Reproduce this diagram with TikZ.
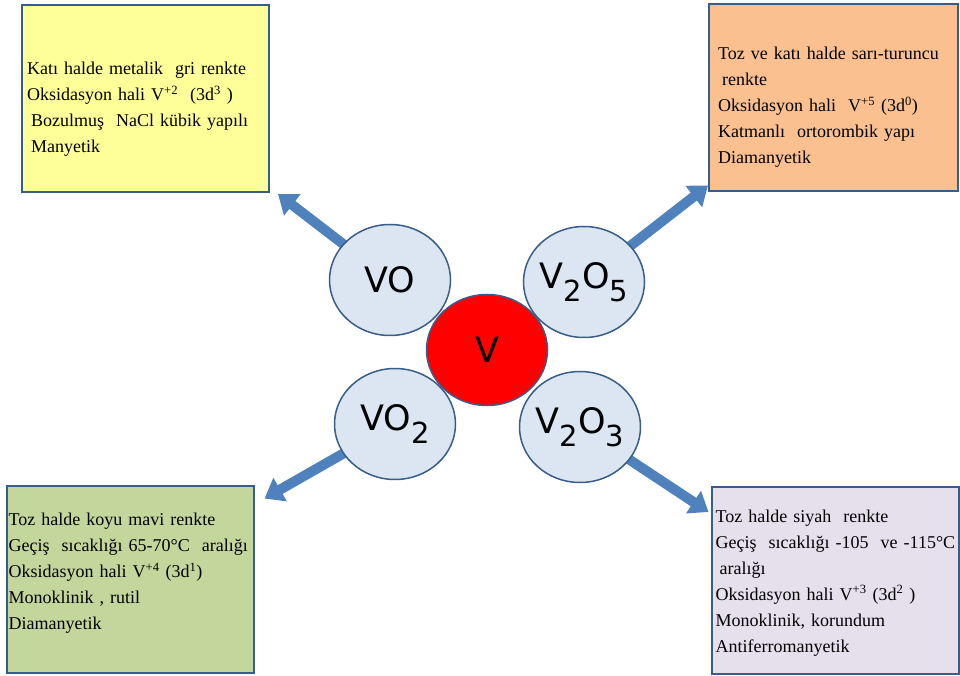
\documentclass[tikz,border=0pt]{standalone}
\usepackage{fontspec}
\usepackage{tikz}
\usetikzlibrary{arrows.meta}
\usetikzlibrary{positioning}
\usetikzlibrary{shapes.geometric}
\usetikzlibrary{backgrounds}
\newfontfamily\boxfont{Liberation Serif}[WordSpace=0.85]
\newfontfamily\oxfont{DejaVu Sans}
\definecolor{edgeblue}{RGB}{56,93,138}
\definecolor{arrowblue}{RGB}{79,129,189}
\definecolor{oxidefill}{RGB}{220,230,242}
\definecolor{yellowfill}{RGB}{255,255,153}
\definecolor{orangefill}{RGB}{250,192,144}
\definecolor{greenfill}{RGB}{195,214,155}
\definecolor{purplefill}{RGB}{230,224,236}
\newcommand{\oxsub}[1]{\raisebox{-13pt}{\fontsize{29}{29}\selectfont #1}}
\newcommand{\oxname}[1]{\makebox[0pt]{#1}}
\tikzstyle{every node}+=[inner sep=0pt]
\tikzstyle{infobox} = [rectangle, draw=edgeblue, line width=2pt, minimum width=247pt, minimum height=187pt]
\tikzstyle{boxtext} = [anchor=base west, text width=262pt, align=left, font=\boxfont\fontsize{18}{26}\selectfont]
\tikzstyle{oxide} = [ellipse, draw=edgeblue, line width=1.5pt, fill=oxidefill, minimum width=121pt, minimum height=111pt, font=\oxfont\fontsize{35}{35}\selectfont]
\tikzstyle{metal} = [oxide, fill=red]
\tikzstyle{line} = [draw=arrowblue, line width=10pt, shorten <=-6pt, -{Triangle[length=18pt,width=26pt]}]

\begin{document}
\begin{tikzpicture}[x=1pt, y=1pt]
  \useasboundingbox (0,0) rectangle (960,675);
  % Place nodes
  \coordinate (c) at (487,325);
  \node [oxide] (vo) at ([shift={(-97pt,70pt)}]c) {\oxname{VO}};
  \node [oxide] (v2o5) at ([shift={(97pt,68pt)}]c) {\oxname{V\oxsub{2}O\oxsub{5}}};
  \node [oxide] (vo2) at ([shift={(-92pt,-74pt)}]c) {\oxname{VO\oxsub{2}}};
  \node [oxide] (v2o3) at ([shift={(93pt,-77pt)}]c) {\oxname{V\oxsub{2}O\oxsub{3}}};
  \node [metal] (v) at (c) {\oxname{V}};
  \node [infobox, fill=yellowfill] (yellow) at ([shift={(-244.5pt,181.5pt)}]vo) {};
  \node [infobox, fill=orangefill, minimum width=249pt] (orange) at ([shift={(249.5pt,184pt)}]v2o5) {};
  \node [infobox, fill=greenfill] (green) at ([shift={(-265pt,-155pt)}]vo2) {};
  \node [infobox, fill=purplefill] (purple) at ([shift={(255pt,-153.5pt)}]v2o3) {};
  % Box texts
  \node [boxtext] (yellowtext) at ([shift={(6pt,-71pt)}]yellow.north west)
    {Katı halde metalik~ gri renkte\\
     Oksidasyon hali V\textsuperscript{+2}~ (3d\textsuperscript{3} )\\
     \hspace*{4pt}Bozulmuş~ NaCl kübik yapılı\\
     \hspace*{4pt}Manyetik};
  \node [boxtext] (orangetext) at ([shift={(10pt,-56pt)}]orange.north west)
    {Toz ve katı halde sarı-turuncu\\
     \hspace*{4pt}renkte\\
     Oksidasyon hali~ V\textsuperscript{+5} (3d\textsuperscript{0})\\
     Katmanlı~ ortorombik yapı\\
     Diamanyetik};
  \node [boxtext] (greentext) at ([shift={(3pt,-41pt)}]green.north west)
    {Toz halde koyu mavi renkte\\
     Geçiş~ sıcaklığı 65-70°C~ aralığı\\
     Oksidasyon hali V\textsuperscript{+4} (3d\textsuperscript{1})\\
     Monoklinik , rutil\\
     Diamanyetik};
  \node [boxtext] (purpletext) at ([shift={(5pt,-36pt)}]purple.north west)
    {Toz halde siyah~ renkte\\
     Geçiş~ sıcaklığı -105~ ve -115°C\\
     \hspace*{4pt}aralığı\\
     Oksidasyon hali V\textsuperscript{+3} (3d\textsuperscript{2} )\\
     Monoklinik, korundum\\
     Antiferromanyetik};
  % Arrow ends
  \coordinate (votip) at ([shift={(8pt,-1pt)}]yellow.south east);
  \coordinate (v2o5tip) at ([shift={(0pt,7pt)}]orange.south west);
  \coordinate (vo2tip) at ([shift={(10pt,-14pt)}]green.north east);
  \coordinate (v2o3tip) at ([shift={(-2pt,-26pt)}]purple.north west);
  % Draw edges
  \begin{scope}[on background layer]
    \path [line] (vo) -- (votip);
    \path [line] (v2o5) -- (v2o5tip);
    \path [line] (vo2) -- (vo2tip);
    \path [line] (v2o3) -- (v2o3tip);
  \end{scope}
\end{tikzpicture}
\end{document}
